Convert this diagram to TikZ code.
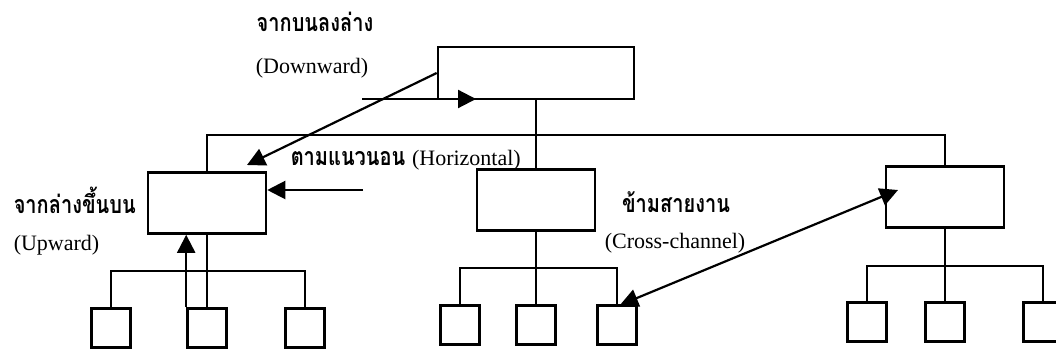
\documentclass[tikz,border=0pt]{standalone}
\usepackage{fontspec}
\setmainfont{Liberation Serif}
\newfontfamily\thaifont[Script=Thai,FakeStretch=0.8]{Loma}
\usetikzlibrary{arrows.meta}
\begin{document}
\begin{tikzpicture}[x=0.5pt,y=-0.5pt,line width=1.1pt,
    unit/.style={draw,line width=1.3pt,inner sep=0pt,minimum width=59pt,minimum height=30.5pt},
    sub/.style={draw,line width=1.3pt,inner sep=0pt,minimum size=19.5pt},
    tip/.style={-{Triangle[length=9pt,width=9pt]}},
    twotip/.style={{Triangle[length=9pt,width=9pt]}-{Triangle[length=9pt,width=9pt]}},
    en/.style={font=\fontsize{11}{13}\selectfont},
    th/.style={font=\thaifont\bfseries\fontsize{12.5}{14}\selectfont}]
  \useasboundingbox (0,0) rectangle (1056,353);
  % units
  \node[unit,minimum width=98pt,minimum height=26pt] (top) at (536,73) {};
  \node[unit] (left) at (207,203) {};
  \node[unit] (mid) at (536,200) {};
  \node[unit] (right) at (945,197) {};
  \node[sub] (l1) at (111,328) {};
  \node[sub] (l2) at (207,328) {};
  \node[sub] (l3) at (305,328) {};
  \node[sub] (m1) at (460,325) {};
  \node[sub] (m2) at (536,325) {};
  \node[sub] (m3) at (617,325) {};
  \node[sub] (r1) at (867,322) {};
  \node[sub] (r2) at (945,322) {};
  \node[sub] (r3) at (1043,322) {};
  \coordinate (bus) at (536,135);
  \coordinate (lbus) at (207,271);
  \coordinate (mbus) at (536,268);
  \coordinate (rbus) at (945,266);
  % tree lines
  \begin{scope}[-]
    \draw (top) -- (mid);
    \draw (left.north) |- (bus) -| (right.north);
    \draw (left) -- (l2);
    \draw (l1.north) |- (lbus) -| (l3.north);
    \draw (mid) -- (m2);
    \draw (m1.north) |- (mbus) -| (m3.north);
    \draw (right) -- (r2);
    \draw (r1.north) |- (rbus) -| (r3.north);
  \end{scope}
  % flows
  \coordinate (dtip) at (247,165);
  \coordinate (hfrom) at (362,99);
  \coordinate (hto) at (476,99);
  \coordinate (rfrom) at (363,190);
  \coordinate (ca) at (620,305);
  \coordinate (cb) at (898,190);
  \draw[tip] (top.west) -- (dtip);
  \draw[tip] (hfrom) -- (hto);
  \draw[tip] (rfrom) -- (rfrom -| left.east);
  \draw[tip] (l2.north west) -- (l2.north west |- left.south);
  \draw[twotip] (ca) -- (cb);
  % labels
  \node[th] (down) at (315,22) {จากบนลงล่าง};
  \node[en] (downen) at (312,68) {(Downward)};
  \node[th,anchor=west] (horiz) at (283,160) {ตามแนวนอน \normalfont\fontsize{11}{13}\selectfont(Horizontal)};
  \node[th,anchor=west] (up) at (6,200) {จากล่างขึ้นบน};
  \node[en,anchor=west] (upen) at (6,245) {(Upward)};
  \node[th] (cross) at (676,202) {ข้ามสายงาน};
  \node[en] (crossen) at (675,243) {(Cross-channel)};
\end{tikzpicture}
\end{document}
